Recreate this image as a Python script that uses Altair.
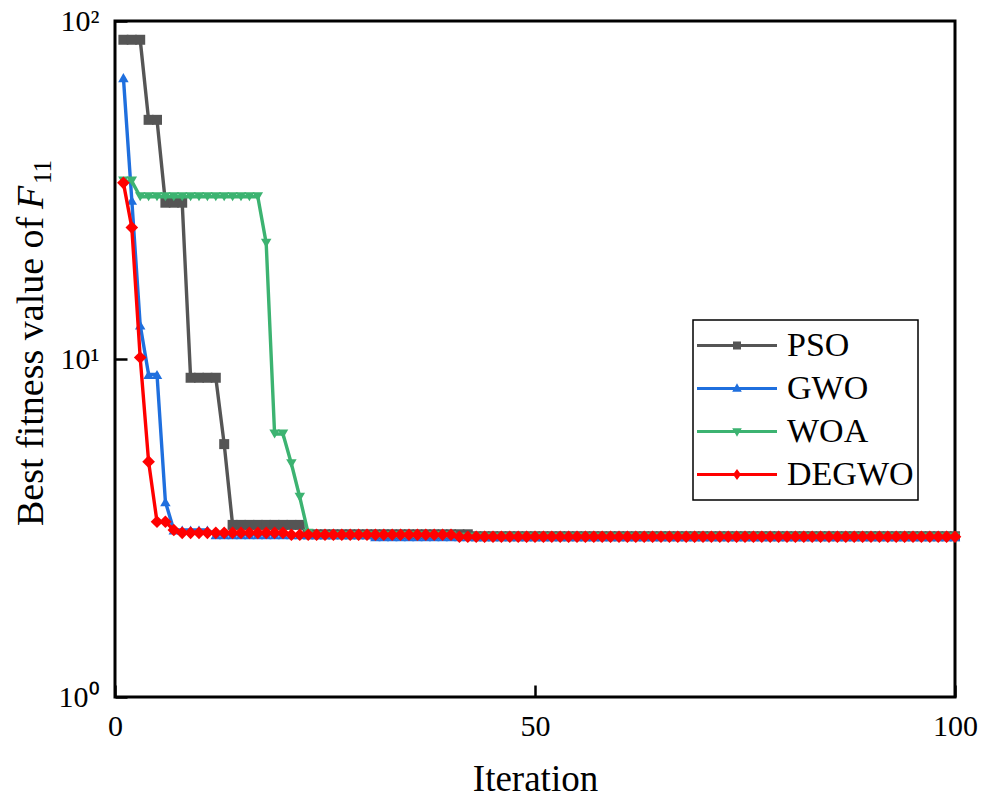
import altair as alt
import pandas as pd

# ---------------- data ----------------
series_names = ["PSO", "GWO", "WOA", "DEGWO"]
series_colors = ["#555555", "#1f6fde", "#3cb371", "#ff0000"]
plot_shapes = ["square", "triangle-up", "triangle-down", "diamond"]
plot_sizes = [100, 110, 110, 160]

iterations = list(range(1, 101))

pso = [88, 88, 88, 51, 51, 29, 29, 29, 8.8, 8.8,
       8.8, 8.8, 5.6, 3.23, 3.23, 3.23, 3.23, 3.23, 3.23, 3.23,
       3.23, 3.23, 3.03, 3.03, 3.03, 3.03, 3.03, 3.03, 3.03, 3.03,
       3.03, 3.03, 3.03, 3.03, 3.03, 3.03, 3.03, 3.03, 3.03, 3.03,
       3.03, 3.03, 2.99, 2.99, 2.99, 2.99, 2.99, 2.99, 2.99, 2.99,
       2.99, 2.99, 2.99, 2.99, 2.99, 2.99, 2.99, 2.99, 2.99, 2.99,
       2.99, 2.99, 2.99, 2.99, 2.99, 2.99, 2.99, 2.99, 2.99, 2.99,
       2.99, 2.99, 2.99, 2.99, 2.99, 2.99, 2.99, 2.99, 2.99, 2.99,
       2.99, 2.99, 2.99, 2.99, 2.99, 2.99, 2.99, 2.99, 2.99, 2.99,
       2.99, 2.99, 2.99, 2.99, 2.99, 2.99, 2.99, 2.99, 2.99, 2.99]

gwo = [68, 29.5, 12.6, 9.0, 9.0, 3.78, 3.12, 3.12, 3.12, 3.12,
       3.12, 3.02, 3.02, 3.02, 3.02, 3.02, 3.02, 3.02, 3.02, 3.02,
       3.02, 3.02, 3.02, 3.02, 3.02, 3.02, 3.02, 3.02, 3.02, 3.02,
       2.98, 2.98, 2.98, 2.98, 2.98, 2.98, 2.98, 2.98, 2.98, 2.98,
       2.98, 2.98, 2.98, 2.98, 2.98, 2.98, 2.98, 2.98, 2.98, 2.98,
       2.98, 2.98, 2.98, 2.98, 2.98, 2.98, 2.98, 2.98, 2.98, 2.98,
       2.98, 2.98, 2.98, 2.98, 2.98, 2.98, 2.98, 2.98, 2.98, 2.98,
       2.98, 2.98, 2.98, 2.98, 2.98, 2.98, 2.98, 2.98, 2.98, 2.98,
       2.98, 2.98, 2.98, 2.98, 2.98, 2.98, 2.98, 2.98, 2.98, 2.98,
       2.98, 2.98, 2.98, 2.98, 2.98, 2.98, 2.98, 2.98, 2.98, 2.98]

woa = [33.6, 33.6, 30.2, 30.2, 30.2, 30.2, 30.2, 30.2, 30.2, 30.2,
       30.2, 30.2, 30.2, 30.2, 30.2, 30.2, 30.2, 22, 6.0, 6.0,
       4.9, 3.9, 3.05, 3.0, 3.0, 3.0, 3.0, 3.0, 3.0, 3.0,
       3.0, 3.0, 3.0, 3.0, 3.0, 3.0, 3.0, 3.0, 3.0, 3.0,
       2.97, 2.97, 2.97, 2.97, 2.97, 2.97, 2.97, 2.97, 2.97, 2.97,
       2.97, 2.97, 2.97, 2.97, 2.97, 2.97, 2.97, 2.97, 2.97, 2.97,
       2.97, 2.97, 2.97, 2.97, 2.97, 2.97, 2.97, 2.97, 2.97, 2.97,
       2.97, 2.97, 2.97, 2.97, 2.97, 2.97, 2.97, 2.97, 2.97, 2.97,
       2.97, 2.97, 2.97, 2.97, 2.97, 2.97, 2.97, 2.97, 2.97, 2.97,
       2.97, 2.97, 2.97, 2.97, 2.97, 2.97, 2.97, 2.97, 2.97, 2.97]

degwo = [33.2, 24.5, 10.1, 4.97, 3.30, 3.30, 3.12, 3.06, 3.06, 3.06,
         3.06, 3.06, 3.06, 3.06, 3.06, 3.06, 3.06, 3.06, 3.06, 3.06,
         3.02, 3.02, 3.02, 3.02, 3.02, 3.02, 3.02, 3.02, 3.02, 3.02,
         3.02, 3.02, 3.02, 3.02, 3.02, 3.02, 3.02, 3.02, 3.02, 3.02,
         2.98, 2.98, 2.98, 2.98, 2.98, 2.98, 2.98, 2.98, 2.98, 2.98,
         2.98, 2.98, 2.98, 2.98, 2.98, 2.98, 2.98, 2.98, 2.98, 2.98,
         2.98, 2.98, 2.98, 2.98, 2.98, 2.98, 2.98, 2.98, 2.98, 2.98,
         2.98, 2.98, 2.98, 2.98, 2.98, 2.98, 2.98, 2.98, 2.98, 2.98,
         2.98, 2.98, 2.98, 2.98, 2.98, 2.98, 2.98, 2.98, 2.98, 2.98,
         2.98, 2.98, 2.98, 2.98, 2.98, 2.98, 2.98, 2.98, 2.98, 2.98]

x_ticks = [0, 50, 100]
y_ticks = [1, 10, 100]

# legend symbols: line sample + marker (unit square paths)
legend_paths = [
    "M-1,-0.04H1V0.04H-1Z M-0.1,-0.1H0.1V0.1H-0.1Z",
    "M-1,-0.04H1V0.04H-1Z M0,-0.13L0.12,0.08L-0.12,0.08Z",
    "M-1,-0.04H1V0.04H-1Z M0,0.13L-0.12,-0.08L0.12,-0.08Z",
    "M-1,-0.04H1V0.04H-1Z M0,-0.14L0.1,0L0,0.14L-0.1,0Z",
]

# ---------------- build table ----------------
all_values = [pso, gwo, woa, degwo]
rows = []
for name, vals in zip(series_names, all_values):
    for it, v in zip(iterations, vals):
        rows.append({"iteration": it, "value": v, "series": name})
df = pd.DataFrame(rows)

FONT = "Liberation Serif"

x_enc = alt.X(
    "iteration:Q",
    scale=alt.Scale(domain=[0, 100], nice=False),
    axis=alt.Axis(
        values=x_ticks, title="Iteration", domain=False, grid=False,
        tickSize=12, tickWidth=2.5, tickColor="black", offset=-12,
        labelPadding=14, labelFont=FONT, labelFontSize=30, labelColor="black",
        labelFlush=False, titleFont=FONT, titleFontSize=37, titleFontWeight="normal",
        titleColor="black", titlePadding=20,
    ),
)
y_enc = alt.Y(
    "value:Q",
    scale=alt.Scale(type="log", domain=[1, 100], nice=False),
    axis=alt.Axis(
        values=y_ticks, title=None, domain=False, grid=False,
        tickSize=12, tickWidth=2.5, tickColor="black", offset=-12,
        labelPadding=16, labelFont=FONT, labelFontSize=30, labelColor="black",
        labelFlush=False, labelOverlap=False,
        labelExpr="datum.value == 1 ? '10\u2070' : datum.value == 10 ? '10\u00b9' : '10\u00b2'",
    ),
)

base = alt.Chart(df)
layers = []
for name, col, shp, sz in zip(series_names, series_colors, plot_shapes, plot_sizes):
    sub = base.transform_filter(alt.datum.series == name)
    layers.append(sub.mark_line(color=col, strokeWidth=3.4).encode(x=x_enc, y=y_enc))
    layers.append(
        sub.mark_point(shape=shp, filled=True, size=sz, color=col, opacity=1, strokeWidth=0)
        .encode(x="iteration:Q", y="value:Q")
    )

legend_layer = base.transform_filter("false").mark_point(filled=True, opacity=1).encode(
    x="iteration:Q",
    y="value:Q",
    color=alt.Color(
        "series:N",
        scale=alt.Scale(domain=series_names, range=series_colors),
        legend=alt.Legend(title=None),
    ),
    shape=alt.Shape(
        "series:N",
        scale=alt.Scale(domain=series_names, range=legend_paths),
        legend=alt.Legend(title=None),
    ),
)
layers.append(legend_layer)

tdata = alt.Data(values=[{"t": 1}])
title_main = alt.Chart(tdata).mark_text(
    text="Best fitness value of", font=FONT, fontSize=38, angle=270,
    align="left", baseline="alphabetic", color="black",
).encode(x=alt.value(-72), y=alt.value(505))
title_f = alt.Chart(tdata).mark_text(
    text="F", font=FONT, fontSize=38, fontStyle="italic", angle=270,
    align="left", baseline="alphabetic", color="black",
).encode(x=alt.value(-72), y=alt.value(188))
title_sub = alt.Chart(tdata).mark_text(
    text="11", font=FONT, fontSize=25, angle=270,
    align="left", baseline="alphabetic", color="black",
).encode(x=alt.value(-64), y=alt.value(163))
layers += [title_main, title_f, title_sub]

chart = (
    alt.layer(*layers)
    .properties(
        width=840, height=676,
        autosize=alt.AutoSizeParams(type="none"),
        padding={"left": 115, "top": 21, "right": 40, "bottom": 102},
        background="white",
    )
    .configure_view(stroke="black", strokeWidth=3)
    .configure_legend(
        orient="none", legendX=578, legendY=299, padding=4,
        strokeColor="black", strokeWidth=1.5, fillColor="white",
        clipHeight=43, rowPadding=0, symbolSize=6400, symbolStrokeWidth=0,
        symbolOpacity=1, labelFont=FONT, labelFontSize=34, labelOffset=10,
        labelColor="black", cornerRadius=0,
    )
)

chart.save("out.html", embed_options={"renderer": "svg", "actions": False})
